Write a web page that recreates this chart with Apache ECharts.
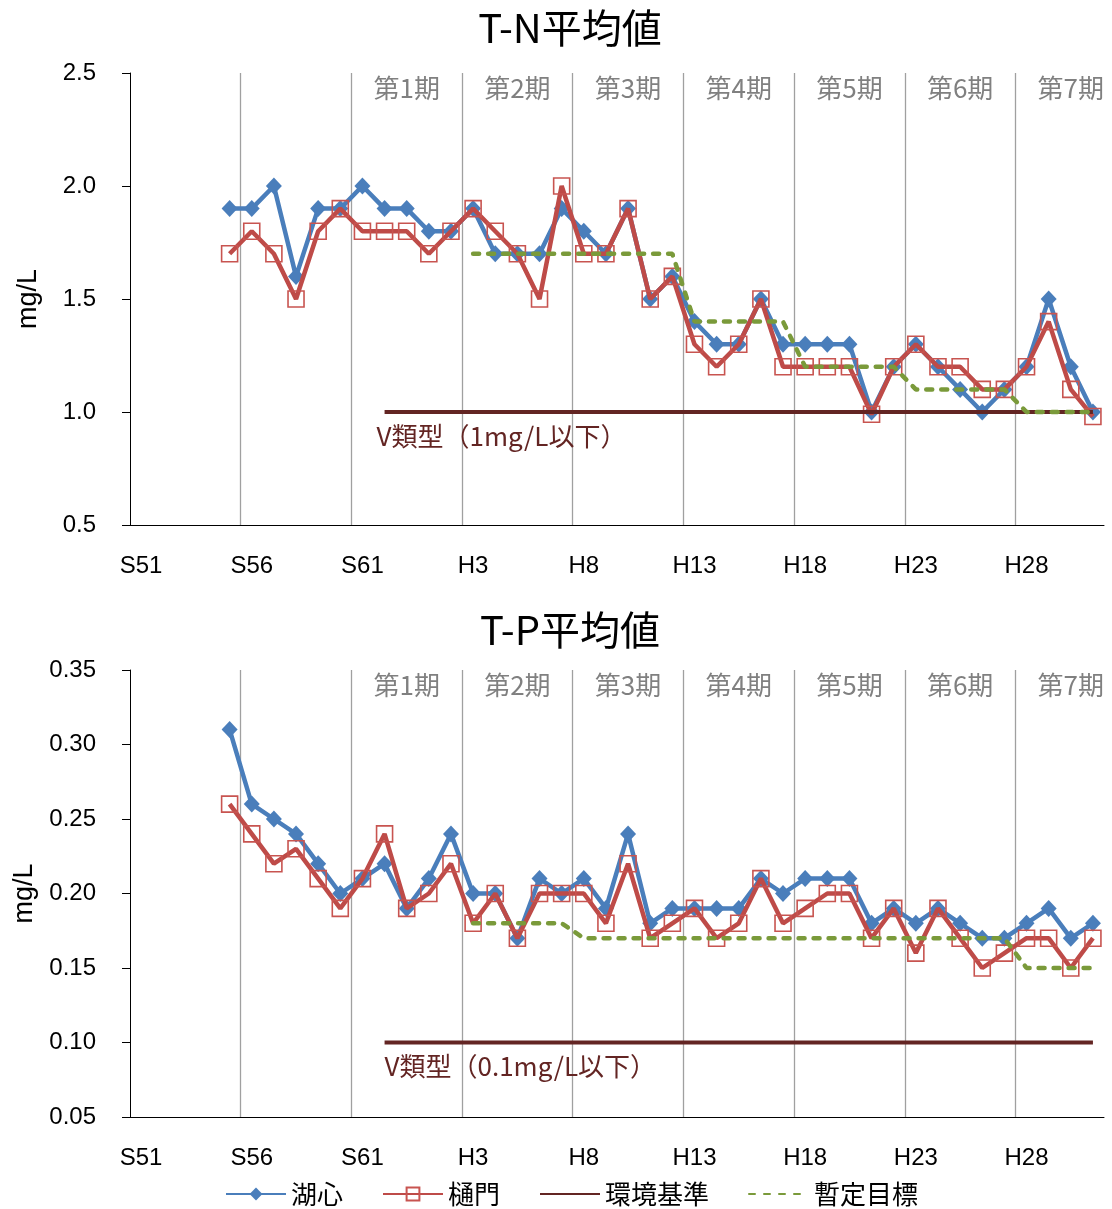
<!DOCTYPE html>
<html><head><meta charset="utf-8">
<script src="https://cdn.jsdelivr.net/npm/echarts@6/dist/echarts.min.js"></script>
<style>html,body{margin:0;padding:0;background:#fff}#c{width:1112px;height:1209px}</style>
</head><body><div id="c"></div>
<script>
// ---- categories (fiscal years S51..H31) ----
const years = ['S51','S52','S53','S54','S55','S56','S57','S58','S59','S60','S61','S62','S63',
  'H1','H2','H3','H4','H5','H6','H7','H8','H9','H10','H11','H12','H13','H14','H15','H16','H17',
  'H18','H19','H20','H21','H22','H23','H24','H25','H26','H27','H28','H29','H30','H31'];

// ---- T-N (mg/L), from S55 ----
const tnStart = 'S55';
const tnKoshin = [1.9,1.9,2.0,1.6,1.9,1.9,2.0,1.9,1.9,1.8,1.8,1.9,1.7,1.7,1.7,1.9,1.8,1.7,1.9,1.5,
                  1.6,1.4,1.3,1.3,1.5,1.3,1.3,1.3,1.3,1.0,1.2,1.3,1.2,1.1,1.0,1.1,1.2,1.5,1.2,1.0];
const tnHimon  = [1.7,1.8,1.7,1.5,1.8,1.9,1.8,1.8,1.8,1.7,1.8,1.9,1.8,1.7,1.5,2.0,1.7,1.7,1.9,1.5,
                  1.6,1.3,1.2,1.3,1.5,1.2,1.2,1.2,1.2,0.99,1.2,1.3,1.2,1.2,1.1,1.1,1.2,1.4,1.1,0.98];
const tnStdStart = 'S62';
const tnStd = [1.0,1.0,1.0,1.0,1.0,1.0,1.0,1.0,1.0,1.0,1.0,1.0,1.0,1.0,1.0,1.0,1.0,1.0,1.0,1.0,
               1.0,1.0,1.0,1.0,1.0,1.0,1.0,1.0,1.0,1.0,1.0,1.0,1.0];
const tnTgtStart = 'H3';
const tnTgt = [1.7,1.7,1.7,1.7,1.7,1.7,1.7,1.7,1.7,1.7,1.4,1.4,1.4,1.4,1.4,1.2,1.2,1.2,1.2,1.2,
               1.1,1.1,1.1,1.1,1.1,1.0,1.0,1.0,1.0];
const tnStdLabel = 'V類型（1mg/L以下）';
const tnTicks = [0.5, 2.5, 0.5];

// ---- T-P (mg/L), from S55 ----
const tpStart = 'S55';
const tpKoshin = [0.31,0.26,0.25,0.24,0.22,0.20,0.21,0.22,0.19,0.21,0.24,0.20,0.20,0.17,0.21,0.20,0.21,0.19,0.24,0.18,
                  0.19,0.19,0.19,0.19,0.21,0.20,0.21,0.21,0.21,0.18,0.19,0.18,0.19,0.18,0.17,0.17,0.18,0.19,0.17,0.18];
const tpHimon  = [0.26,0.24,0.22,0.23,0.21,0.19,0.21,0.24,0.19,0.20,0.22,0.18,0.20,0.17,0.20,0.20,0.20,0.18,0.22,0.17,
                  0.18,0.19,0.17,0.18,0.21,0.18,0.19,0.20,0.20,0.17,0.19,0.16,0.19,0.17,0.15,0.16,0.17,0.17,0.15,0.17];
const tpStdStart = 'S62';
const tpStd = [0.1,0.1,0.1,0.1,0.1,0.1,0.1,0.1,0.1,0.1,0.1,0.1,0.1,0.1,0.1,0.1,0.1,0.1,0.1,0.1,
               0.1,0.1,0.1,0.1,0.1,0.1,0.1,0.1,0.1,0.1,0.1,0.1,0.1];
const tpTgtStart = 'H3';
const tpTgt = [0.18,0.18,0.18,0.18,0.18,0.17,0.17,0.17,0.17,0.17,0.17,0.17,0.17,0.17,0.17,0.17,0.17,0.17,0.17,0.17,
               0.17,0.17,0.17,0.17,0.17,0.15,0.15,0.15,0.15];
const tpStdLabel = 'V類型（0.1mg/L以下）';
const tpTicks = [0.05, 0.35, 0.05];

// ---- periods ----
const periodNames  = ['第1期','第2期','第3期','第4期','第5期','第6期','第7期'];
const periodStarts = ['S61','H3','H8','H13','H18','H23','H28'];
const periodLen = 5;

const seriesNames = ['湖心','樋門','環境基準','暫定目標'];
const titles = ['T-N平均値','T-P平均値'];

// ---- layout / style ----
const C = {blue:'#4A7EBB', red:'#BE4B48', std:'#632523', tgt:'#7A9A3A', grid:'#A0A0A0', period:'#808080'};
const JP = '"Noto Sans CJK JP", sans-serif';
const LAT = '"Liberation Sans", Arial, sans-serif';
const GL = 130, GW = 974;
const grids = [{left:GL, top:73, width:GW, height:452}, {left:GL, top:670, width:GW, height:447}];
const catW = GW / years.length;

function pad(start, arr) {
  const out = years.map(() => null);
  const i0 = years.indexOf(start);
  arr.forEach((v, k) => { out[i0 + k] = v; });
  return out;
}

function periodArea() {
  return {
    silent: true,
    itemStyle: {color: 'rgba(0,0,0,0)'},
    label: {show: true, position: 'insideTop', distance: 2, color: C.period, fontSize: 26, fontFamily: JP},
    data: periodNames.map((n, k) => {
      const i0 = years.indexOf(periodStarts[k]);
      const i1 = Math.min(i0 + periodLen - 1, years.length - 1);
      const missing = i0 + periodLen - 1 - i1;
      return [{name: n, xAxis: years[i0], label: {offset: [missing * catW / 2, 0]}}, {xAxis: years[i1]}];
    })
  };
}

function build(gi, d) {
  return [
    {name: seriesNames[0], type: 'line', xAxisIndex: gi, yAxisIndex: gi, data: pad(d.start, d.koshin),
     showAllSymbol: true, symbol: 'diamond', symbolSize: [16, 17], lineStyle: {color: C.blue, width: 4.5},
     itemStyle: {color: C.blue}, markArea: periodArea(), z: 2},
    {name: seriesNames[1], type: 'line', xAxisIndex: gi, yAxisIndex: gi, data: pad(d.start, d.himon),
     showAllSymbol: true, symbol: 'rect', symbolSize: 16, lineStyle: {color: C.red, width: 4.5},
     itemStyle: {color: 'rgba(255,255,255,0)', borderColor: '#C85450', borderWidth: 1.6}, z: 3},
    {name: seriesNames[2], type: 'line', xAxisIndex: gi, yAxisIndex: gi, data: pad(d.stdStart, d.std),
     symbol: 'none', lineStyle: {color: C.std, width: 4}, itemStyle: {color: C.std}, z: 4,
     markPoint: {symbol: 'rect', symbolSize: 0, silent: true,
       label: {show: true, position: 'bottom', align: 'left', distance: 11, offset: [d.lblDx, 0],
               color: C.std, fontSize: 26, fontFamily: JP, formatter: d.stdLabel},
       data: [{coord: [d.stdStart, d.std[0]]}]}},
    {name: seriesNames[3], type: 'line', xAxisIndex: gi, yAxisIndex: gi, data: pad(d.tgtStart, d.tgt),
     symbol: 'none', lineStyle: {color: C.tgt, width: 4.5, type: [6, 9], cap: 'round'},
     itemStyle: {color: C.tgt}, z: 5}
  ];
}

function xAxis(gi) {
  return {gridIndex: gi, type: 'category', data: years, boundaryGap: true,
    axisLine: {lineStyle: {color: '#000', width: 1}}, axisTick: {show: false},
    axisLabel: {interval: 4, fontSize: 24, color: '#000', fontFamily: LAT, margin: 29},
    splitLine: {show: true, interval: 4, showMinLine: false, showMaxLine: false,
                lineStyle: {color: C.grid, width: 1.3}}};
}
function yAxis(gi, t, dec) {
  return {gridIndex: gi, type: 'value', min: t[0], max: t[1], interval: t[2],
    axisLine: {show: true, lineStyle: {color: '#000', width: 1}},
    axisTick: {show: true, length: 8, lineStyle: {color: '#000'}},
    splitLine: {show: false},
    axisLabel: {formatter: v => v.toFixed(dec), fontSize: 24, color: '#000', fontFamily: LAT, margin: 34},
    name: 'mg/L', nameLocation: 'middle', nameGap: 88, nameRotate: 90,
    nameTextStyle: {fontSize: 27, color: '#000', fontFamily: LAT}};
}

const chart = echarts.init(document.getElementById('c'), null, {renderer: 'canvas'});
chart.setOption({
  animation: false,
  backgroundColor: '#fff',
  title: [
    {text: titles[0], left: 565, top: 3, textAlign: 'center', textStyle: {fontSize: 40, fontWeight: 'normal', fontFamily: JP, color: '#000'}},
    {text: titles[1], left: 565, top: 605, textAlign: 'center', textStyle: {fontSize: 40, fontWeight: 'normal', fontFamily: JP, color: '#000'}}
  ],
  legend: {left: 220, top: 1176, itemWidth: 60, itemHeight: 16, itemGap: 39,
    textStyle: {fontSize: 26, fontFamily: JP, color: '#000'},
    data: [
      {name: seriesNames[0]},
      {name: seriesNames[1]},
      {name: seriesNames[2], itemStyle: {opacity: 0}},
      {name: seriesNames[3], itemStyle: {opacity: 0}}
    ]},
  grid: grids,
  xAxis: [xAxis(0), xAxis(1)],
  yAxis: [yAxis(0, tnTicks, 1), yAxis(1, tpTicks, 2)],
  series: [].concat(
    build(0, {start: tnStart, koshin: tnKoshin, himon: tnHimon, stdStart: tnStdStart, std: tnStd,
              tgtStart: tnTgtStart, tgt: tnTgt, stdLabel: tnStdLabel, lblDx: -8}),
    build(1, {start: tpStart, koshin: tpKoshin, himon: tpHimon, stdStart: tpStdStart, std: tpStd,
              tgtStart: tpTgtStart, tgt: tpTgt, stdLabel: tpStdLabel, lblDx: 0})
  )
});
</script>
</body></html>
